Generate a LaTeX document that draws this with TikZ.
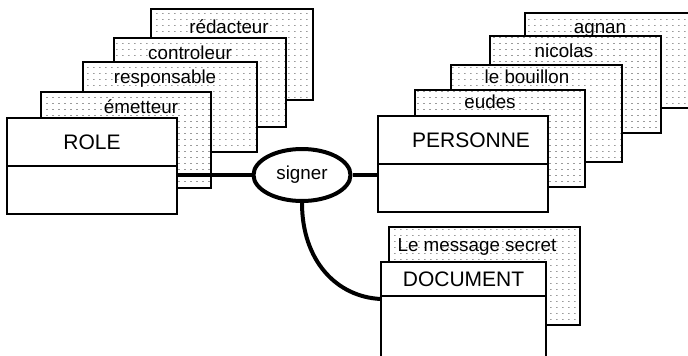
\documentclass[tikz,border=0pt]{standalone}
\usepackage{fontspec}
\setmainfont{Liberation Sans}
\usetikzlibrary{positioning, shapes.geometric, patterns}
\pgfdeclarepatternformonly{dashdots}{\pgfpointorigin}{\pgfpoint{5.8pt}{6pt}}{\pgfpoint{5.8pt}{6pt}}{%
  \pgfpathrectangle{\pgfpointorigin}{\pgfpoint{1.8pt}{0.8pt}}\pgfusepath{fill}}

\begin{document}
\begin{tikzpicture}[x=1pt, y=-1pt,
  card/.style={draw, line width=2pt, preaction={fill=white}, pattern=dashdots,
               pattern color=black!60, inner sep=0pt, outer sep=0pt},
  cardtxt/.style={anchor=base, inner sep=0pt, font=\fontsize{18.8}{22}\selectfont},
  cls/.style={draw, line width=2pt, fill=white, minimum width=170pt, minimum height=48pt,
              inner sep=0pt, outer sep=0pt, font=\fontsize{21}{25}\selectfont},
  rel/.style={draw, ellipse, line width=4pt, fill=white, minimum width=97pt, minimum height=52pt,
              inner sep=0pt, font=\fontsize{18.8}{22}\selectfont},
  link/.style={line width=4pt}
]
  \useasboundingbox (0,0) rectangle (688,356);
  \clip (0,0) rectangle (688,356);

  % roles
  \node[card, minimum width=162pt, minimum height=91pt] (redac) at (232,54.5) {};
  \node[cardtxt] (redac-t) at (229,33) {rédacteur};
  \node[card, minimum width=172pt, minimum height=89pt] (contr) at (200,82.5) {};
  \node[cardtxt] (contr-t) at (190,59) {controleur};
  \node[card, minimum width=174pt, minimum height=90pt] (resp) at (170,107) {};
  \node[cardtxt] (resp-t) at (165,83) {responsable};
  \node[card, minimum width=170pt, minimum height=96pt] (emet) at (126,140) {};
  \node[cardtxt] (emet-t) at (141,113) {émetteur};
  \node[cls] (role) at (92,142) {ROLE};
  \node[cls, below=0pt of role] (rolebody) {};

  % personnes
  \node[card, minimum width=175pt, minimum height=95pt] (agnan) at (612.5,60.5) {};
  \node[cardtxt] (agnan-t) at (600,33) {agnan};
  \node[card, minimum width=171pt, minimum height=97pt] (nicol) at (575.5,84.5) {};
  \node[cardtxt] (nicol-t) at (564,57) {nicolas};
  \node[card, minimum width=171pt, minimum height=97pt] (bouil) at (536.5,113.5) {};
  \node[cardtxt] (bouil-t) at (527,83) {le bouillon};
  \node[card, minimum width=170pt, minimum height=97pt] (eudes) at (500,138.5) {};
  \node[cardtxt] (eudes-t) at (490,108) {eudes};
  \node[cls] (pers) at (463,140) {\hspace{16pt}PERSONNE};
  \node[cls, below=0pt of pers] (persbody) {};

  % document
  \node[card, minimum width=191pt, minimum height=98pt] (secret) at (484.5,276) {};
  \node[cardtxt] (secret-t) at (477,251) {Le message secret};
  \node[cls, minimum width=165pt, minimum height=34pt] (doc) at (463.5,279) {DOCUMENT};
  \node[cls, minimum width=165pt, minimum height=100pt, below=0pt of doc] (docbody) {};

  \node[rel] (signer) at (302,175) {signer};

  \draw[link] (rolebody.east |- signer) -- (signer);
  \draw[link] (signer) -- (persbody.west |- signer);
  \draw[link] (signer.south) .. controls +(0,57) and +(-45,-2) .. ([yshift=-3pt]docbody.north west);
\end{tikzpicture}
\end{document}
